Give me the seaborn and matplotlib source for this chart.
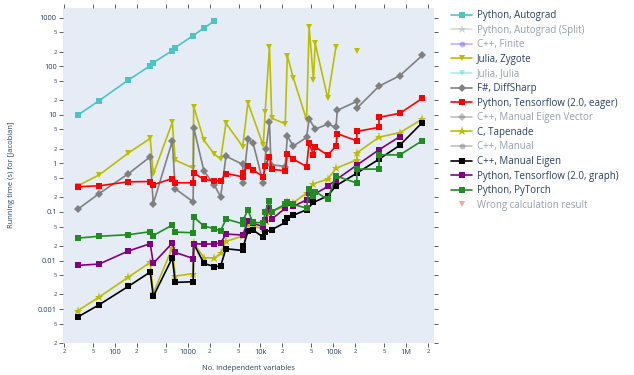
import numpy as np
import matplotlib
matplotlib.use('Agg')
import matplotlib.pyplot as plt
from matplotlib.lines import Line2D
from matplotlib.ticker import NullLocator
import seaborn as sns

# values (x = no. independent variables, y = seconds)
autograd_x = [31, 61, 153, 306, 337, 615, 676, 1190, 1675, 2335]
autograd_y = [9.9, 19.7, 52, 103, 119, 210, 243, 430, 615, 860]

zygote_x = [31, 61, 153, 306, 337, 615, 676, 1190, 1210, 1675, 2335, 2840, 3360, 5700, 6730,
            10930, 11600, 13300, 14300, 21900, 23400, 28200, 43000, 46600, 53500, 56500, 84000,
            109000, 150000, 211000]
zygote_y = [0.346, 0.582, 1.63, 3.28, 0.597, 7.0, 1.17, 0.80, 14.8, 2.99, 1.55, 1.22, 6.7, 2.23, 17.7,
            2.36, 11.2, 254, 8.55, 6.53, 166, 58.5, 7.9, 647, 52.5, 299, 21.9,
            254, np.nan, 207]

diffsharp_x = [31, 61, 153, 306, 337, 615, 676, 1190, 1210, 1675, 2335, 2840, 3360, 5700, 5810,
               6730, 7900, 10930, 11900, 13300, 13950, 21900, 23400, 28200, 43000, 46600, 56500,
               84000, 109000, 113600, 211000, 211000, 425000, 824000, 1670000]
diffsharp_y = [0.114, 0.240, 0.611, 1.37, 0.148, 2.88, 0.30, 0.162, 5.48, 0.695, 0.357, 0.203, 1.41,
               0.957, 0.394, 3.13, 2.65, 0.394, 1.95, 7.18, 0.948, 0.863, 3.70, 2.27, 3.44, 8.27,
               5.08, 6.44, 5.53, 12.4, 19.0, 13.7, 39, 64.4, 168]

tf_eager_x = [31, 61, 153, 306, 337, 615, 676, 1190, 1210, 1675, 2335, 2840, 3360, 5700, 5810,
              6730, 7900, 10930, 11600, 13300, 14300, 21900, 23400, 28200, 43000, 46600, 53500,
              56500, 84000, 109000, 113600, 211000, 211000, 425000, 425000, 824000, 1670000]
tf_eager_y = [0.330, 0.346, 0.418, 0.424, 0.363, 0.489, 0.399, 0.399, 0.641, 0.467, 0.439, 0.439,
              0.620, 0.530, 0.631, 0.906, 0.738, 0.530, 0.893, 1.37, 0.757, 0.705, 1.58, 1.22,
              0.863, 2.62, 1.50, 2.20, 1.47, 2.30, 4.10, 2.92, 4.57, 5.53, 8.89, 10.8, 21.9]

tapenade_x = [31, 61, 153, 306, 337, 615, 676, 1190, 1210, 1675, 2335, 2840, 3360, 5810, 6730,
              10930, 11900, 13300, 21900, 23400, 28200, 43000, 53500, 84000, 109000, 211000,
              211000, 425000, 824000, 1670000]
tapenade_y = [0.000927, 0.00177, 0.00453, 0.00914, 0.00212, 0.0181, 0.0048, 0.00535, 0.0229,
              0.0114, 0.0113, 0.0140, 0.0247, 0.0324, 0.0546, 0.0451, 0.0659, 0.101, 0.128,
              0.164, 0.155, 0.245, 0.380, 0.475, 0.793, 1.19, 1.65, 3.47, 4.32, 8.16]

eigen_x = [31, 61, 153, 306, 337, 615, 676, 1190, 1210, 1675, 2335, 2840, 3360, 5700, 5810, 6730,
           7810, 10930, 11600, 14300, 21900, 23400, 28200, 43000, 53500, 84000, 109000, 211000,
           425000, 824000, 1670000]
eigen_y = [0.000687, 0.00123, 0.00293, 0.00579, 0.00182, 0.0113, 0.00354, 0.00366, 0.0222,
           0.00871, 0.00745, 0.00771, 0.0175, 0.0161, 0.0195, 0.0397, 0.0431, 0.0301, 0.0386,
           0.0431, 0.0608, 0.0749, 0.0855, 0.111, 0.157, 0.215, 0.346, 0.631, 1.22, 2.38, 6.95]

tf_graph_x = [31, 61, 153, 306, 337, 615, 676, 1190, 1210, 1675, 2335, 2840, 3360, 5700, 6730,
              7810, 10930, 11600, 13300, 14300, 21900, 23400, 28200, 43000, 46600, 53500, 84000,
              109000, 211000, 425000, 824000]
tf_graph_y = [0.00793, 0.00847, 0.0157, 0.0222, 0.00871, 0.0229, 0.0147, 0.0110, 0.0222, 0.0219,
              0.0219, 0.0229, 0.0351, 0.0335, 0.0638, 0.0591, 0.0496, 0.0692, 0.120, 0.0715,
              0.119, 0.152, 0.130, 0.178, 0.245, 0.226, 0.335, 0.460, 0.923, 1.91, 3.58]

pytorch_x = [31, 61, 153, 306, 337, 615, 676, 1190, 1210, 1675, 2335, 2840, 3360, 5700, 5810,
             6730, 7810, 10930, 11600, 13300, 14300, 21900, 23400, 28200, 43000, 46600, 53500,
             56500, 84000, 109000, 211000, 211000, 425000, 425000, 824000, 1670000]
pytorch_y = [0.0290, 0.0316, 0.0340, 0.0392, 0.0327, 0.0537, 0.0386, 0.0373, 0.0785, 0.0513,
             0.0451, 0.0410, 0.0715, 0.0571, 0.0692, 0.111, 0.0608, 0.0600, 0.102, 0.172, 0.102,
             0.144, 0.162, 0.143, 0.120, 0.293, 0.217, 0.264, 0.181, 0.551, 0.394, 0.764, 0.764,
             1.50, 1.50, 2.94]

x_ticks = [20, 50, 100, 200, 500, 1e3, 2e3, 5e3, 1e4, 2e4, 5e4, 1e5, 2e5, 5e5, 1e6, 2e6]
x_ticklabels = ['2', '5', '100', '2', '5', '1000', '2', '5', '10k', '2', '5', '100k', '2', '5', '1M', '2']
y_ticks = [2e-4, 5e-4, 1e-3, 2e-3, 5e-3, 1e-2, 2e-2, 5e-2, 0.1, 0.2, 0.5, 1, 2, 5, 10, 20, 50,
           100, 200, 500, 1000]
y_ticklabels = ['2', '5', '0.001', '2', '5', '0.01', '2', '5', '0.1', '2', '5', '1', '2', '5',
                '10', '2', '5', '100', '2', '5', '1000']

# legend order, visible flag (grey entries are hidden traces)
legend_names = ['Python, Autograd', 'Python, Autograd (Split)', 'C++, Finite', 'Julia, Zygote',
                'Julia, Julia', 'F#, DiffSharp', 'Python, Tensorflow (2.0, eager)',
                'C++, Manual Eigen Vector', 'C, Tapenade', 'C++, Manual', 'C++, Manual Eigen',
                'Python, Tensorflow (2.0, graph)', 'Python, PyTorch', 'Wrong calculation result']
legend_visible = [True, False, False, True, False, True, True, False, True, False, True, True, True, False]

styles = {
    'Python, Autograd': ('#4cc4c4', 's', 4.6),
    'Python, Autograd (Split)': ('#b4b4b4', '*', 6.5),
    'C++, Finite': ('#7b68ee', 'o', 4.2),
    'Julia, Zygote': ('#bcbd00', 'v', 5.0),
    'Julia, Julia': ('#5fd8d8', 'v', 5.0),
    'F#, DiffSharp': ('#808080', 'D', 3.8),
    'Python, Tensorflow (2.0, eager)': ('#ff0000', 's', 4.6),
    'C++, Manual Eigen Vector': ('#808080', 'D', 3.8),
    'C, Tapenade': ('#bcbd00', '*', 6.5),
    'C++, Manual': ('#808080', 'o', 4.2),
    'C++, Manual Eigen': ('#000000', 's', 4.6),
    'Python, Tensorflow (2.0, graph)': ('#800080', 's', 4.6),
    'Python, PyTorch': ('#228b22', 's', 4.6),
    'Wrong calculation result': ('#d9534f', 'v', 5.0),
}

series = [
    ('Python, Autograd', autograd_x, autograd_y),
    ('Julia, Zygote', zygote_x, zygote_y),
    ('F#, DiffSharp', diffsharp_x, diffsharp_y),
    ('Python, Tensorflow (2.0, eager)', tf_eager_x, tf_eager_y),
    ('C, Tapenade', tapenade_x, tapenade_y),
    ('C++, Manual Eigen', eigen_x, eigen_y),
    ('Python, Tensorflow (2.0, graph)', tf_graph_x, tf_graph_y),
    ('Python, PyTorch', pytorch_x, pytorch_y),
]

sns.set_style('ticks', {'axes.facecolor': '#E5ECF6'})
plt.rcParams['font.family'] = ['Open Sans', 'DejaVu Sans']
text_col = '#2a3f5f'

fig = plt.figure(figsize=(6.34, 3.75), dpi=100)
ax = fig.add_axes([63 / 634, 32 / 375, 371 / 634, 335 / 375])
ax.set_xscale('log')
ax.set_yscale('log')

for name, xs, ys in series:
    color, marker, ms = styles[name]
    xs = np.asarray(xs, float)
    ys = np.asarray(ys, float)
    # a NaN in the values breaks the line, like a gap in the trace
    gaps = np.where(np.isnan(ys))[0]
    for seg in np.split(np.arange(len(ys)), gaps):
        seg = seg[~np.isnan(ys[seg])]
        if len(seg) == 0:
            continue
        sns.lineplot(x=xs[seg], y=ys[seg], ax=ax, color=color, marker=marker, markersize=ms,
                     markeredgewidth=0, linewidth=1.2, sort=False, estimator=None, legend=False)

ax.set_xlim(19.4, 2.42e6)
ax.set_ylim(2e-4, 1590)
ax.xaxis.set_minor_locator(NullLocator())
ax.yaxis.set_minor_locator(NullLocator())
ax.set_xticks(x_ticks, x_ticklabels)
ax.set_yticks(y_ticks, y_ticklabels)
for lab in ax.get_xticklabels() + ax.get_yticklabels():
    lab.set_fontsize(4.2 if lab.get_text() in ('2', '5') else 5.3)
ax.tick_params(which='both', direction='out', length=3, width=0.6, color='#444444', pad=1.5,
               top=True, right=True, labelcolor=text_col)
sns.despine(ax=ax, top=True, right=True, left=True, bottom=True)
ax.set_xlabel('')
ax.set_ylabel('')

fig.text(248 / 634, 1 - 368 / 375, 'No. independent variables', ha='center', va='center',
         fontsize=5.5, color=text_col)
fig.text(12 / 634, 1 - 175 / 375, 'Running time (s) for [Jacobian]', ha='center', va='center',
         rotation=90, fontsize=5.5, color=text_col)

handles = []
for name, vis in zip(legend_names, legend_visible):
    color, marker, ms = styles[name]
    ls = 'none' if name == 'Wrong calculation result' else '-'
    handles.append(Line2D([], [], color=color, marker=marker, markersize=ms, markeredgewidth=0,
                          linewidth=1.2, linestyle=ls, alpha=1.0 if vis else 0.5))
leg = fig.legend(handles, legend_names, loc='upper left', bbox_to_anchor=(451 / 634, 1 - 10 / 375),
                 frameon=False, fontsize=7.0, labelspacing=0.37, handlelength=2.2,
                 handletextpad=0.5, borderpad=0, borderaxespad=0, numpoints=1)
for txt, vis in zip(leg.get_texts(), legend_visible):
    txt.set_color(text_col)
    if not vis:
        txt.set_alpha(0.5)

fig.savefig('out.png', dpi=100)
